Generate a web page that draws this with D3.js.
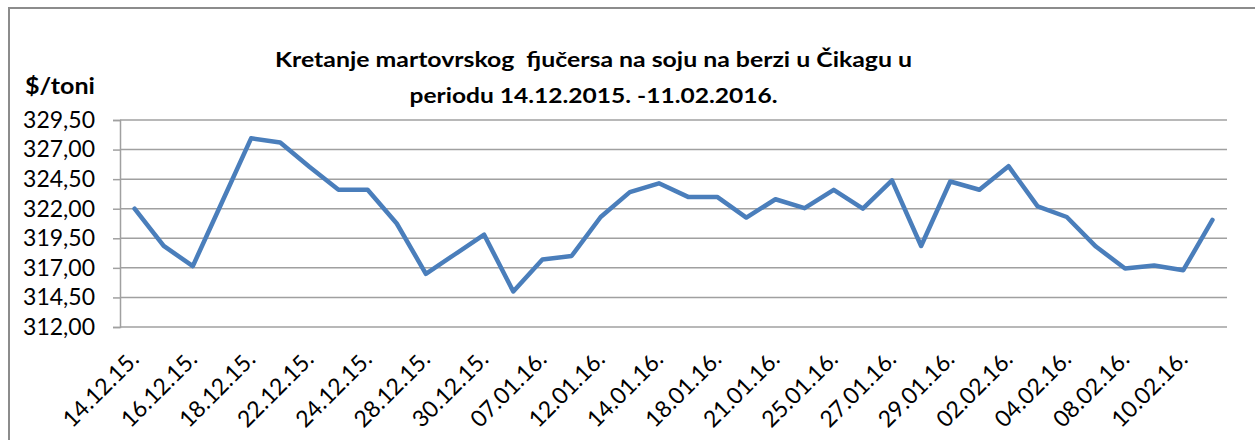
<!DOCTYPE html>
<html>
<head>
<meta charset="utf-8">
<script src="https://cdnjs.cloudflare.com/ajax/libs/d3/7.8.5/d3.min.js"></script>
<style>
    body { margin: 0; background: #fff; }
    #chart text { font-family: Lato, "Open Sans", sans-serif; fill: #000; }
</style>
</head>
<body>
<div id="chart"></div>
<script>

// dates on the category axis (only every other one is labelled)
const dates = ["14.12.15.","15.12.15.","16.12.15.","17.12.15.","18.12.15.","21.12.15.","22.12.15.","23.12.15.",
    "24.12.15.","25.12.15.","28.12.15.","29.12.15.","30.12.15.","31.12.15.","07.01.16.","08.01.16.",
    "12.01.16.","13.01.16.","14.01.16.","15.01.16.","18.01.16.","20.01.16.","21.01.16.","22.01.16.",
    "25.01.16.","26.01.16.","27.01.16.","28.01.16.","29.01.16.","01.02.16.","02.02.16.","03.02.16.",
    "04.02.16.","05.02.16.","08.02.16.","09.02.16.","10.02.16.","11.02.16."];

// March soybean futures, $/t
const prices = [322.00, 318.85, 317.15, 322.55, 327.95, 327.60, 325.55, 323.60,
    323.60, 320.75, 316.50, 318.15, 319.80, 315.00, 317.70, 318.00,
    321.30, 323.40, 324.15, 323.00, 323.00, 321.25, 322.80, 322.05,
    323.60, 322.00, 324.40, 318.85, 324.30, 323.60, 325.60, 322.20,
    321.30, 318.80, 316.95, 317.20, 316.80, 321.05];

const yTicks = [312.00, 314.50, 317.00, 319.50, 322.00, 324.50, 327.00, 329.50];

const titleLines = ["Kretanje martovrskog  fjučersa na soju na berzi u Čikagu u",
    "periodu 14.12.2015. -11.02.2016."];
const titleWidths = [637, 368];
const yLabel = "$/toni";

const data = dates.map(function(d, i) { return {date: d, price: prices[i]}; });

const width = 1255;
const height = 440;
const margin = {top: 120, left: 120, right: 28, bottom: 113};

const svg = d3.select("#chart")
    .append("svg")
    .attr("width", width)
    .attr("height", height);

// outer chart frame
svg.append("rect")
    .attr("x", 9)
    .attr("y", 8)
    .attr("width", width + 20)
    .attr("height", height + 20)
    .attr("fill", "none")
    .attr("stroke", "#8c8c8c")
    .attr("stroke-width", 2);

/*
SCALES
*/
const xScale = d3.scaleBand()
    .domain(dates)
    .range([margin.left, width - margin.right]);

const yScale = d3.scaleLinear()
    .domain([d3.min(yTicks), d3.max(yTicks)])
    .range([height - margin.bottom, margin.top]);

const fmt = function(d) { return d.toFixed(2).replace(".", ","); };

/*
GRIDLINES
*/
svg.append("g")
    .selectAll("line")
    .data(yTicks)
    .enter()
    .append("line")
        .attr("x1", margin.left)
        .attr("x2", width - margin.right)
        .attr("y1", function(d) { return yScale(d); })
        .attr("y2", function(d) { return yScale(d); })
        .attr("stroke", "#a0a0a0")
        .attr("stroke-width", 1.5);

/*
AXES
*/
const yAxis = svg.append("g")
    .attr("transform", `translate(${margin.left},0)`)
    .call(d3.axisLeft(yScale).tickValues(yTicks).tickFormat(fmt).tickSize(7).tickPadding(18));

yAxis.select(".domain").attr("stroke", "#a0a0a0").attr("stroke-width", 1.5);
yAxis.selectAll(".tick line").attr("stroke", "#a0a0a0").attr("stroke-width", 1.5);
yAxis.selectAll(".tick text").style("font-size", "23px");

const xAxis = svg.append("g")
    .attr("transform", `translate(0,${height - margin.bottom})`)
    .call(d3.axisBottom(xScale)
        .tickValues(dates.filter(function(d, i) { return i % 2 === 0; }))
        .tickSize(0));

xAxis.select(".domain").remove();
xAxis.selectAll(".tick text")
    .attr("x", 0)
    .attr("y", 0)
    .attr("dy", "0.35em")
    .attr("text-anchor", "end")
    .attr("transform", "translate(0,28) rotate(-45)")
    .style("font-size", "23px");

/*
LINE
*/
const line = d3.line()
    .x(function(d) { return xScale(d.date) + xScale.bandwidth() / 2; })
    .y(function(d) { return yScale(d.price); });

svg.append("path")
    .datum(data)
    .attr("d", line)
    .attr("fill", "none")
    .attr("stroke", "#4a7ebb")
    .attr("stroke-width", 4.5)
    .attr("stroke-linejoin", "round")
    .attr("stroke-linecap", "round");

/*
TITLE + AXIS LABEL
*/
svg.append("g")
    .selectAll("text")
    .data(titleLines)
    .enter()
    .append("text")
        .attr("x", 593.5)
        .attr("y", function(d, i) { return 67 + i * 36; })
        .attr("text-anchor", "middle")
        .attr("textLength", function(d, i) { return titleWidths[i]; })
        .attr("lengthAdjust", "spacingAndGlyphs")
        .style("font-size", "21px")
        .style("font-weight", "bold")
        .style("white-space", "pre")
        .text(function(d) { return d; });

svg.append("text")
    .attr("x", 25)
    .attr("y", 94)
    .attr("textLength", 70)
    .attr("lengthAdjust", "spacingAndGlyphs")
    .style("font-size", "23px")
    .style("font-weight", "bold")
    .text(yLabel);

</script>
</body>
</html>
